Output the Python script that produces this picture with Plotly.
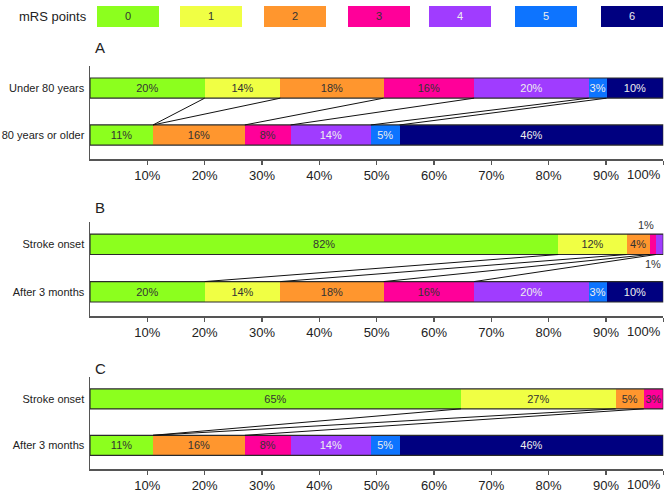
import plotly.graph_objects as go

# ---------------- data ----------------
categories = ["0", "1", "2", "3", "4", "5", "6"]
colors = ["#8cff1e", "#f0ff44", "#ff962e", "#ff0099", "#a03cff", "#0d74ff", "#000080"]
text_colors = ["#333333", "#333333", "#333333", "#333333", "#eeeeee", "#eeeeee", "#eeeeee"]

# Panel A
a_rows = ["Under 80 years", "80 years or older"]
under80 = [20, 13.2, 18, 15.8, 20, 3.1, 9.9]
under80_labels = ["20%", "14%", "18%", "16%", "20%", "3%", "10%"]
over80 = [11, 0, 16, 8, 14, 5, 46]
over80_labels = ["11%", "", "16%", "8%", "14%", "5%", "46%"]

# Panel B
b_rows = ["Stroke onset", "After 3 months"]
b_onset = [81.7, 11.9, 4.0, 1.1, 1.3, 0, 0]
b_onset_labels = ["82%", "12%", "4%", "1%", "1%", "", ""]
b_after = under80
b_after_labels = under80_labels

# Panel C
c_rows = ["Stroke onset", "After 3 months"]
c_onset = [64.7, 27.0, 4.9, 3.4, 0, 0, 0]
c_onset_labels = ["65%", "27%", "5%", "3%", "", "", ""]
c_after = over80
c_after_labels = over80_labels

tick_vals = [10, 20, 30, 40, 50, 60, 70, 80, 90, 100]
tick_text = ["10%", "20%", "30%", "40%", "50%", "60%", "70%", "80%", "90%", "100%"]

panels = [
    ("A", a_rows, under80, under80_labels, over80, over80_labels),
    ("B", b_rows, b_onset, b_onset_labels, b_after, b_after_labels),
    ("C", c_rows, c_onset, c_onset_labels, c_after, c_after_labels),
]

# ---------------- layout helpers ----------------
W, H = 669, 502
FONT = "Liberation Sans Narrow, Arial Narrow, Liberation Sans, Arial, sans-serif"
x_dom = [90 / W, 663.3 / W]
panel_px = [(66, 159), (222, 316), (377, 469)]   # (axis top, baseline) in px
letter_px = [47, 208, 368]
BAR_W = 0.43
YR = [-0.51, 1.47]
SMALL = 2.0  # segments narrower than this get their label outside
AX_FS = 13
Y_FS = 11
BAR_FS = 11

fig = go.Figure()
layout = dict(
    width=W, height=H, margin=dict(l=0, r=0, t=0, b=0, autoexpand=False),
    paper_bgcolor="white", plot_bgcolor="white",
    barmode="stack", showlegend=False, hovermode=False,
    font=dict(family=FONT, size=AX_FS, color="#222"),
    uniformtext=dict(minsize=BAR_FS, mode="show"),
)
shapes = []
annotations = []

for p, (letter, rows, top, top_lab, bot, bot_lab) in enumerate(panels):
    sfx = "" if p == 0 else str(p + 1)
    xa, ya = "x" + sfx, "y" + sfx
    t_px, b_px = panel_px[p]
    dom = [(H - b_px) / H, (H - t_px) / H]

    for i, cat in enumerate(categories):
        fig.add_trace(go.Bar(
            orientation="h", y=[1, 0], x=[top[i], bot[i]],
            base=[sum(top[:i]), sum(bot[:i])],
            width=BAR_W, name=cat,
            marker=dict(color=colors[i], line=dict(width=0)),
            text=[top_lab[i] if top[i] >= SMALL else "", bot_lab[i] if bot[i] >= SMALL else ""],
            textposition="inside", insidetextanchor="middle", textangle=0,
            constraintext="none",
            textfont=dict(size=BAR_FS, color=text_colors[i], family=FONT),
            xaxis=xa, yaxis=ya, hoverinfo="skip",
        ))

    # small labels outside (alternate above / below), right-aligned to segment end
    k = 0
    for i in range(len(categories)):
        if 0 < top[i] < SMALL and top_lab[i]:
            above = (k % 2 == 0)
            annotations.append(dict(
                x=sum(top[:i + 1]), y=1 + (BAR_W / 2 if above else -BAR_W / 2),
                xref=xa, yref=ya, text=top_lab[i], showarrow=False,
                xanchor="right",
                yanchor="bottom" if above else "top", yshift=1 if above else -1,
                font=dict(size=BAR_FS, color="#333", family=FONT)))
            k += 1

    # outlines of whole bars
    for yv, vals in ((1, top), (0, bot)):
        shapes.append(dict(type="rect", xref=xa, yref=ya, x0=0, x1=sum(vals),
                           y0=yv - BAR_W / 2, y1=yv + BAR_W / 2,
                           line=dict(color="#2a2a2a", width=1.2), fillcolor="rgba(0,0,0,0)"))

    # connector lines between category boundaries
    ct, cb = 0.0, 0.0
    for i in range(len(categories) - 1):
        ct += top[i]
        cb += bot[i]
        if ct < 99.5 and cb < 99.5:
            shapes.append(dict(type="line", xref=xa, yref=ya,
                               x0=ct, y0=1 - BAR_W / 2, x1=cb, y1=BAR_W / 2,
                               line=dict(color="#111", width=1)))

    layout["xaxis" + sfx] = dict(
        domain=x_dom, range=[0, 100], anchor=ya, showgrid=False, zeroline=False,
        showline=True, linecolor="#555", linewidth=1.5, automargin=False,
        ticks="outside", ticklen=4, tickcolor="#555", tickwidth=1.5,
        tickvals=tick_vals, ticktext=tick_text[:-1] + [""],
        tickfont=dict(size=AX_FS, color="#222", family=FONT), fixedrange=True,
    )
    annotations.append(dict(x=663 / W, y=(H - b_px - 6) / H, xref="paper", yref="paper",
                            text=tick_text[-1], showarrow=False, xanchor="right", yanchor="top",
                            font=dict(size=AX_FS, color="#222", family=FONT)))
    layout["yaxis" + sfx] = dict(
        domain=dom, range=YR, anchor=xa, showgrid=False, zeroline=False,
        showline=True, linecolor="#555", linewidth=1.5, automargin=False,
        tickvals=[1, 0], ticktext=rows, ticks="", ticklabelstandoff=2,
        tickfont=dict(size=Y_FS, color="#222", family=FONT), fixedrange=True,
    )
    annotations.append(dict(x=100 / W, y=(H - letter_px[p]) / H, xref="paper", yref="paper",
                            text=letter, showarrow=False, xanchor="center", yanchor="middle",
                            font=dict(size=15, color="#222", family=FONT)))

# legend row at top
annotations.append(dict(x=53 / W, y=(H - 17) / H, xref="paper", yref="paper",
                        text="mRS points", showarrow=False, xanchor="center", yanchor="middle",
                        font=dict(size=AX_FS, color="#222", family=FONT)))
leg_x0 = [97, 180, 264, 348, 429, 515, 601]
for i, cat in enumerate(categories):
    x0, x1 = leg_x0[i] / W, (leg_x0[i] + 62) / W
    y0, y1 = (H - 27) / H, (H - 6) / H
    shapes.append(dict(type="rect", xref="paper", yref="paper", x0=x0, x1=x1, y0=y0, y1=y1,
                       fillcolor=colors[i], line=dict(width=0)))
    annotations.append(dict(x=(x0 + x1) / 2, y=(y0 + y1) / 2, xref="paper", yref="paper",
                            text=cat, showarrow=False, xanchor="center", yanchor="middle",
                            font=dict(size=BAR_FS, color=text_colors[i], family=FONT)))

layout["shapes"] = shapes
layout["annotations"] = annotations
fig.update_layout(**layout)
fig.write_html(
    "out.html",
    config={"displayModeBar": False, "staticPlot": True},
    post_script="document.body.style.margin='0';document.body.style.overflow='hidden';",
)
